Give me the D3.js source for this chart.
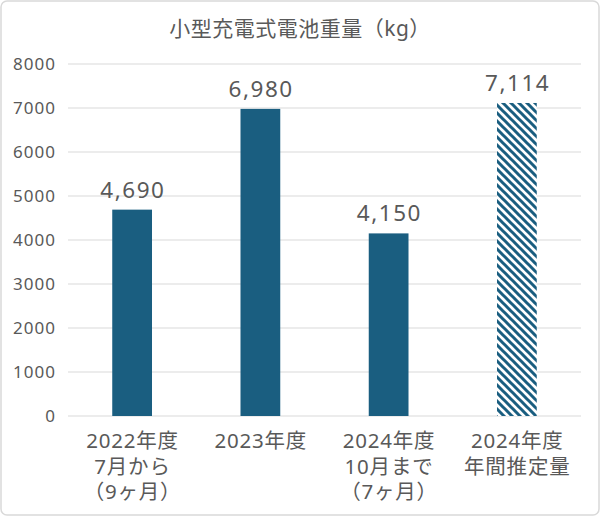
<!DOCTYPE html>
<html><head><meta charset="utf-8">
<script src="https://cdn.jsdelivr.net/npm/d3@7/dist/d3.min.js"></script>
<style>
html,body{margin:0;padding:0;background:#fff;}
svg{display:block;font-family:"Noto Sans","Noto Sans CJK JP",sans-serif;}
</style></head>
<body>
<svg id="chart" width="600" height="517"></svg>
<script>
const title = "小型充電式電池重量（kg）";
const categories = [
  ["2022年度", "7月から", "（9ヶ月）"],
  ["2023年度"],
  ["2024年度", "10月まで", "（7ヶ月）"],
  ["2024年度", "年間推定量"]
];
const values = [4690, 6980, 4150, 7114];
const hatched = [false, false, false, true];
const yTicks = [0, 1000, 2000, 3000, 4000, 5000, 6000, 7000, 8000];

const W = 600, H = 517;
const margin = {left: 68, right: 19, top: 64, bottom: 101};
const svg = d3.select("#chart");
const barColor = "#1a5e80";
const textColor = "#595959";
const FONT = '"Noto Sans","Noto Sans CJK JP",sans-serif';

svg.append("rect").attr("x", 1).attr("y", 1).attr("width", W - 2).attr("height", H - 3)
  .attr("rx", 6).attr("fill", "#fff").attr("stroke", "#d9d9d9").attr("stroke-width", 1.5);

const defs = svg.append("defs");
const pat = defs.append("pattern").attr("id", "hatch")
  .attr("patternUnits", "userSpaceOnUse").attr("width", 8).attr("height", 8);
pat.append("rect").attr("width", 8).attr("height", 8).attr("fill", "#fff");
pat.append("path").attr("d", "M-2,-2 L10,10 M-2,6 L2,10 M6,-2 L10,2")
  .attr("stroke", barColor).attr("stroke-width", 3);

const x = d3.scaleBand().domain(d3.range(categories.length))
  .range([margin.left, W - margin.right]).paddingInner(0.69).paddingOuter(0.345);
const y = d3.scaleLinear().domain([0, 8000]).range([H - margin.bottom, margin.top]);

// grid
svg.append("g").selectAll("line").data(yTicks).join("line")
  .attr("x1", margin.left).attr("x2", W - margin.right)
  .attr("y1", d => y(d)).attr("y2", d => y(d))
  .attr("stroke", "#d9d9d9").attr("stroke-width", 1.2);

// y axis labels
const yAxis = d3.axisLeft(y).tickValues(yTicks).tickSize(0).tickPadding(12).tickFormat(d3.format("d"));
const ga = svg.append("g").attr("transform", `translate(${margin.left},0)`).call(yAxis);
ga.select(".domain").remove();
ga.selectAll("text").attr("fill", textColor).style("font-size", "17px").style("font-family", FONT)
  .style("letter-spacing", "1px");

// bars
svg.append("g").selectAll("rect").data(values).join("rect")
  .attr("x", (d, i) => x(i)).attr("width", x.bandwidth())
  .attr("y", d => y(d)).attr("height", d => y(0) - y(d))
  .attr("fill", (d, i) => hatched[i] ? "url(#hatch)" : barColor);

// value labels
svg.append("g").selectAll("text").data(values).join("text")
  .attr("x", (d, i) => x(i) + x.bandwidth() / 2 + 0.75).attr("y", d => y(d) - 12)
  .attr("text-anchor", "middle").attr("fill", textColor).style("font-size", "22.5px")
  .style("letter-spacing", "1.5px")
  .text(d => d3.format(",")(d));

// x labels
const xl = svg.append("g").selectAll("text").data(categories).join("text")
  .attr("text-anchor", "middle").attr("fill", textColor).style("font-size", "20.5px")
  .style("letter-spacing", "0.8px");
xl.each(function(lines, i) {
  const t = d3.select(this);
  lines.forEach((ln, j) => {
    t.append("tspan").attr("x", x(i) + x.bandwidth() / 2 + 0.4).attr("y", 448 + j * 25.5).text(ln);
  });
});

// title
svg.append("text").attr("x", W / 2).attr("y", 36).attr("text-anchor", "middle")
  .attr("fill", textColor).style("font-size", "21px").style("letter-spacing", "0.5px").text(title);
</script>
</body></html>
